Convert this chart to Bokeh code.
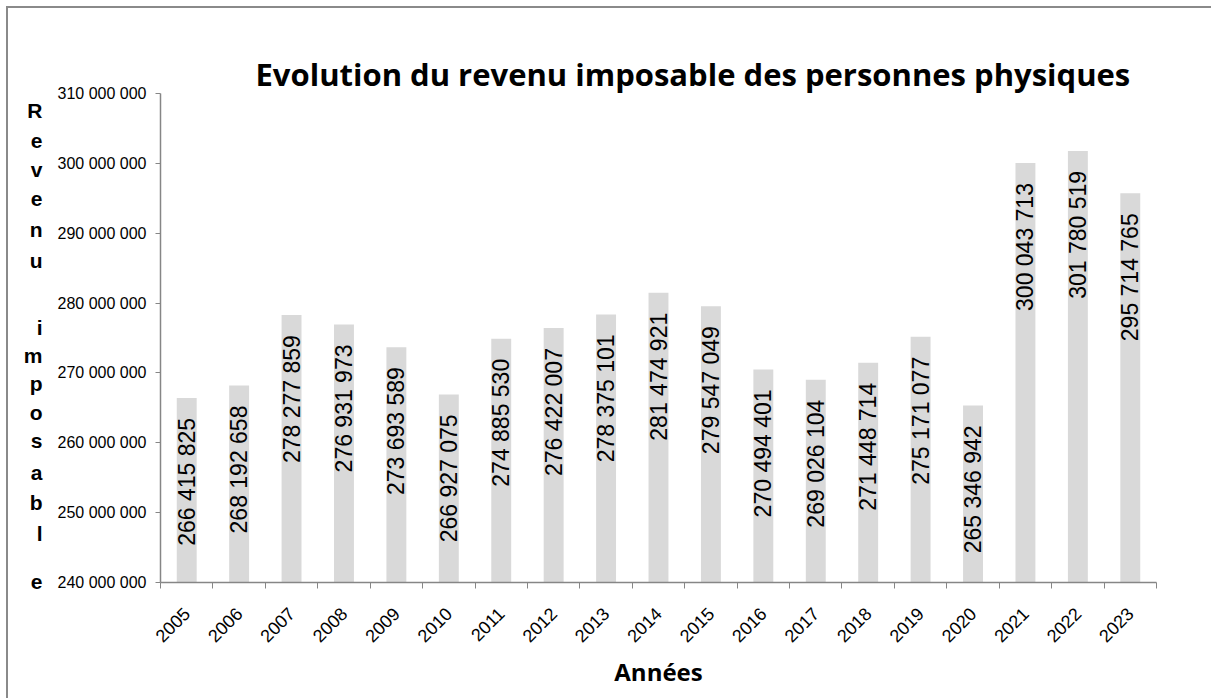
import math
from bokeh.plotting import figure
from bokeh.models import (ColumnDataSource, FixedTicker, CustomJSTickFormatter,
                          Range1d, LinearAxis)
from bokeh.core.properties import value
from bokeh.embed import file_html
from bokeh.resources import INLINE

# ---- data ----
years = ["2005", "2006", "2007", "2008", "2009", "2010", "2011", "2012", "2013",
         "2014", "2015", "2016", "2017", "2018", "2019", "2020", "2021", "2022", "2023"]
revenus = [266415825, 268192658, 278277859, 276931973, 273693589, 266927075,
           274885530, 276422007, 278375101, 281474921, 279547049, 270494401,
           269026104, 271448714, 275171077, 265346942, 300043713, 301780519,
           295714765]
y_ticks = [240000000, 250000000, 260000000, 270000000, 280000000,
           290000000, 300000000, 310000000]

title_text = "Evolution du revenu imposable des personnes physiques"
x_title = "Années"
y_title = "Revenu imposable"


def fmt(v):
    return "{:,}".format(v).replace(",", " ")


xs = [i + 0.5 for i in range(len(years))]
src = ColumnDataSource(dict(x=xs, top=revenus, label=[fmt(v) for v in revenus]))

Y0, Y1 = y_ticks[0], y_ticks[-1]
W, H = 1205, 692
FRAME_L, FRAME_T, FRAME_W, FRAME_H = 152, 85, 996, 489
PAGE = 8  # page offset of the figure content

p = figure(width=W, height=H, output_backend="svg", toolbar_location=None,
           x_range=Range1d(0, len(years)), y_range=Range1d(Y0, Y1),
           min_border_left=FRAME_L, min_border_top=FRAME_T,
           min_border_right=W - FRAME_L - FRAME_W,
           min_border_bottom=H - FRAME_T - FRAME_H,
           background_fill_color="white", border_fill_color="white")
p.outline_line_color = None
p.grid.visible = False
p.styles = {"border-left": "2px solid #8a8a8a", "border-top": "2px solid #8a8a8a",
            "margin-left": "6px", "margin-top": "6px"}

p.vbar(x="x", top="top", bottom=Y0, width=0.38, source=src,
       fill_color="#d9d9d9", line_color=None)

p.text(x="x", y="top", text="label", source=src, angle=math.pi / 2,
       text_align="right", text_baseline="middle", y_offset=20,
       text_font=value("Liberation Sans"), text_font_size="23px",
       text_color="black")

axis_col = "#868686"
# x axis
xa = p.xaxis[0]
xa.ticker = FixedTicker(ticks=xs, minor_ticks=list(range(len(years) + 1)))
xa.formatter = CustomJSTickFormatter(args=dict(years=years),
                                     code="return years[Math.floor(tick)];")
xa.major_label_orientation = math.pi / 4
xa.major_tick_line_color = None
xa.major_tick_out = 0
xa.major_tick_in = 0
xa.minor_tick_line_color = axis_col
xa.minor_tick_out = 6
xa.minor_tick_in = 0
xa.axis_line_color = axis_col
xa.axis_line_width = 1.5
xa.major_label_text_font = "Liberation Sans"
xa.major_label_text_font_size = "18px"
xa.major_label_text_color = "black"
xa.major_label_standoff = 22
xa.axis_label = x_title
xa.axis_label_text_font = "Open Sans"
xa.axis_label_text_font_style = "bold"
xa.axis_label_text_font_size = "24px"
xa.axis_label_text_color = "black"
xa.axis_label_standoff = 4

# y axis
ya = p.yaxis[0]
ya.ticker = FixedTicker(ticks=y_ticks, minor_ticks=[])
ya.formatter = CustomJSTickFormatter(
    code="return String(tick).replace(/\\B(?=(\\d{3})+(?!\\d))/g, ' ');")
ya.major_tick_line_color = axis_col
ya.major_tick_out = 5
ya.major_tick_in = 0
ya.minor_tick_line_color = None
ya.axis_line_color = axis_col
ya.axis_line_width = 1.5
ya.major_label_text_font = "Liberation Sans"
ya.major_label_text_font_size = "16px"
ya.major_label_text_color = "black"
ya.major_label_standoff = 9

# stacked y-axis title: one letter per line, drawn as labels of an extra axis
# (page-pixel centre of each visible letter, layout only)
LETTER_Y_PX = [110, 140, 169, 198, 229, 260, 327, 355, 383, 412, 440, 472,
               502, 533, 581]
letters = [ch for ch in y_title if ch != " "]
p.extra_y_ranges = {"letters": Range1d(start=PAGE + FRAME_T + FRAME_H,
                                       end=PAGE + FRAME_T)}
la = LinearAxis(y_range_name="letters")
la.ticker = FixedTicker(ticks=LETTER_Y_PX, minor_ticks=[])
la.formatter = CustomJSTickFormatter(
    args=dict(chars=letters, pos=LETTER_Y_PX),
    code="for (let i = 0; i < pos.length; i++) { if (Math.abs(pos[i] - tick) < 0.5) return chars[i]; } return '';")
la.axis_line_color = None
la.major_tick_line_color = None
la.minor_tick_line_color = None
la.major_tick_out = 0
la.major_tick_in = 0
la.major_label_standoff = 12
la.major_label_text_align = "center"
la.major_label_text_font = "Liberation Sans"
la.major_label_text_font_style = "bold"
la.major_label_text_font_size = "21px"
la.major_label_text_color = "black"
p.add_layout(la, "left")

# title
p.title.text = title_text
p.title.text_font = "Open Sans"
p.title.text_font_style = "bold"
p.title.text_font_size = "31px"
p.title.text_color = "black"
p.title.align = "left"
p.title.offset = 95
p.title.standoff = -3

open("out.html", "w").write(file_html(p, INLINE))
